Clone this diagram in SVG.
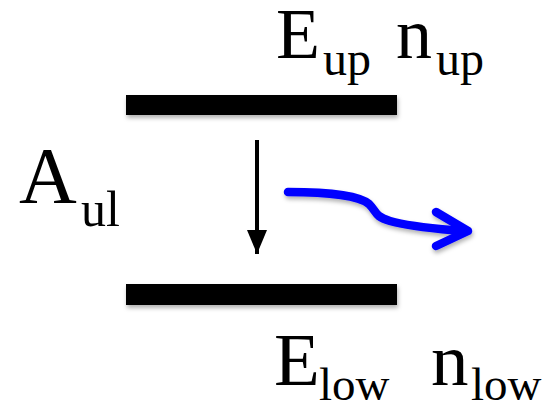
<svg xmlns="http://www.w3.org/2000/svg" width="545" height="407" viewBox="0 0 545 407">
<defs>
<style>
.t{font-family:"Liberation Serif","Times New Roman",serif;fill:#000}
.big{font-size:72px}
.sub{font-size:48px}
.bar{fill:#000}
</style>
<filter id="sh" x="-20%" y="-50%" width="140%" height="200%">
<feDropShadow dx="1" dy="3" stdDeviation="2" flood-color="#000" flood-opacity="0.3"/>
</filter>
<marker id="ah" viewBox="0 0 12 10" refX="12" refY="5" markerWidth="6" markerHeight="5" markerUnits="strokeWidth" orient="auto">
<path d="M0,0 L12,5 L0,10 Z" fill="#000"/>
</marker>
</defs>
<rect width="545" height="407" fill="#fff"/>
<g id="upper-level">
<rect class="bar" x="126" y="95" width="271" height="20" filter="url(#sh)"/>
<text class="t big" x="276" y="58">E</text><text class="t sub" x="323" y="75">up</text>
<text class="t big" x="396" y="58">n</text><text class="t sub" x="436" y="75">up</text>
</g>
<g id="lower-level">
<rect class="bar" x="126" y="284" width="271" height="21" filter="url(#sh)"/>
<text class="t" style="font-size:75px" x="274" y="385">E</text><text class="t" style="font-size:47px" x="319" y="400">low</text>
<text class="t" style="font-size:75px" x="431" y="385">n</text><text class="t" style="font-size:47px" x="471" y="400">low</text>
</g>
<g id="einstein-coefficient">
<text class="t" style="font-size:80px" x="19" y="203">A</text><text class="t" style="font-size:50px" x="81" y="226">ul</text>
</g>
<g id="connectors">
<line x1="257" y1="140" x2="257" y2="254" stroke="#000" stroke-width="4" marker-end="url(#ah)"/>
<g filter="url(#sh)" fill="none" stroke="#0000ff" stroke-width="8.5" stroke-linecap="round" stroke-linejoin="round">
<path d="M288,192 C330,192 360,196 369,204 C377,212 374,216 390,221 C410,227 440,229 462,231"/>
<polyline points="436,212 468,231 436,246"/>
</g>
</g>
</svg>
